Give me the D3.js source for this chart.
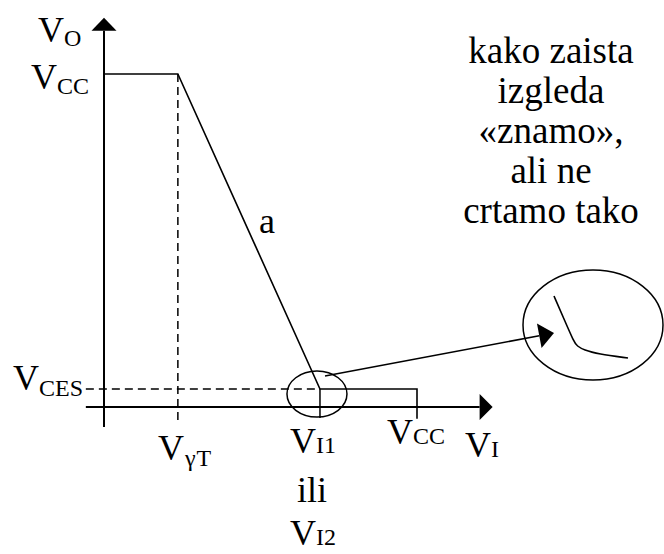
<!DOCTYPE html>
<html>
<head>
<meta charset="utf-8">
<script src="https://cdn.jsdelivr.net/npm/d3@7"></script>
<style>
  html, body { margin: 0; padding: 0; background: #fff; }
  svg { display: block; }
</style>
</head>
<body>
<svg id="chart" width="664" height="554" font-family="'Liberation Serif', 'Times New Roman', Times, 'DejaVu Serif', serif"></svg>
<script>
// Transfer characteristic of an inverter: V_O versus V_I (relative units)
const levelVCC = 10;
const levelVCES = 0.54;
const levelVgT = 2.36;
const levelVI1 = 6.9;

// Idealised characteristic (drawn)
const curveX = [0, levelVgT, levelVI1, levelVCC, levelVCC];
const curveY = [levelVCC, levelVCC, levelVCES, levelVCES, -0.35];

// Real knee shape shown in the magnified inset (local units)
const kneeX = [0, 10, 20, 23, 30, 44, 74];
const kneeY = [0, 23, 46, 50, 54, 58, 62];

// Axis extents
const xAxisExtent = [-0.58, 12.0];
const yAxisExtent = [-0.6, 11.3];

// Text beside the inset
const sideText = ["kako zaista", "izgleda", "«znamo»,", "ali ne", "crtamo tako"];

const svg = d3.select("#chart");
const x = d3.scaleLinear().domain([0, levelVCC]).range([104, 417]);
const y = d3.scaleLinear().domain([0, levelVCC]).range([407, 74]);

const stroke = "#000";

// --- axes ---
svg.append("line")
  .attr("x1", x(xAxisExtent[0])).attr("x2", x(xAxisExtent[1]))
  .attr("y1", y(0)).attr("y2", y(0))
  .attr("stroke", stroke).attr("stroke-width", 2);
svg.append("path")
  .attr("d", `M${x(xAxisExtent[1])},${y(0) - 13} L${x(xAxisExtent[1]) + 13},${y(0)} L${x(xAxisExtent[1])},${y(0) + 13} Z`)
  .attr("fill", stroke);

svg.append("line")
  .attr("x1", x(0)).attr("x2", x(0))
  .attr("y1", y(yAxisExtent[0])).attr("y2", y(yAxisExtent[1]))
  .attr("stroke", stroke).attr("stroke-width", 2);
svg.append("path")
  .attr("d", `M${x(0) - 12.5},${y(yAxisExtent[1])} L${x(0)},${y(yAxisExtent[1]) - 13} L${x(0) + 12.5},${y(yAxisExtent[1])} Z`)
  .attr("fill", stroke);

// --- dashed guides ---
svg.append("line")
  .attr("x1", x(levelVgT)).attr("x2", x(levelVgT))
  .attr("y1", y(levelVCC)).attr("y2", y(-0.48))
  .attr("stroke", stroke).attr("stroke-width", 1.5)
  .attr("stroke-dasharray", "8,5");
svg.append("line")
  .attr("x1", x(xAxisExtent[0])).attr("x2", x(levelVI1))
  .attr("y1", y(levelVCES)).attr("y2", y(levelVCES))
  .attr("stroke", stroke).attr("stroke-width", 1.5)
  .attr("stroke-dasharray", "8,5");

// tick below V_I1
svg.append("line")
  .attr("x1", x(levelVI1)).attr("x2", x(levelVI1))
  .attr("y1", y(levelVCES)).attr("y2", y(-0.33))
  .attr("stroke", stroke).attr("stroke-width", 1.5);

// --- characteristic ---
const line = d3.line().x(d => x(d[0])).y(d => y(d[1]));
svg.append("path")
  .datum(d3.zip(curveX, curveY))
  .attr("d", line)
  .attr("fill", "none").attr("stroke", stroke).attr("stroke-width", 1.6);

// --- magnifier ---
const kx = x(levelVI1) - 3, ky = y(levelVCES) + 5;
svg.append("ellipse")
  .attr("cx", kx).attr("cy", ky).attr("rx", 30).attr("ry", 23)
  .attr("fill", "none").attr("stroke", stroke).attr("stroke-width", 1.5);

const bigC = [593, 325];
svg.append("ellipse")
  .attr("cx", bigC[0]).attr("cy", bigC[1]).attr("rx", 70).attr("ry", 55)
  .attr("fill", "none").attr("stroke", stroke).attr("stroke-width", 1.5);

const kxs = d3.scaleLinear().domain([0, 1]).range([554, 555]);
const kys = d3.scaleLinear().domain([0, 1]).range([296, 297]);
svg.append("path")
  .datum(d3.zip(kneeX, kneeY))
  .attr("d", d3.line().x(d => kxs(d[0])).y(d => kys(d[1])).curve(d3.curveBasis))
  .attr("fill", "none").attr("stroke", stroke).attr("stroke-width", 1.6);

// pointer from the small circle to the inset
const p0 = [325, 376], tip = [554, 333];
const dx = tip[0] - p0[0], dy = tip[1] - p0[1];
const len = Math.hypot(dx, dy), ux = dx / len, uy = dy / len;
const base = [tip[0] - 15 * ux, tip[1] - 15 * uy];
svg.append("line")
  .attr("x1", p0[0]).attr("y1", p0[1]).attr("x2", base[0]).attr("y2", base[1])
  .attr("stroke", stroke).attr("stroke-width", 1.6);
svg.append("path")
  .attr("d", `M${tip[0]},${tip[1]} L${base[0] - uy * 12.5},${base[1] + ux * 12.5} L${base[0] + uy * 12.5},${base[1] - ux * 12.5} Z`)
  .attr("fill", stroke);

// --- labels ---
function vLabel(px, py, sub, subDy = 7) {
  const t = svg.append("text").attr("x", px).attr("y", py).attr("font-size", 36);
  t.append("tspan").text("V");
  t.append("tspan").attr("font-size", 24).attr("dy", subDy).text(sub);
  return t;
}
vLabel(38, 42, "O", 4);
vLabel(31, 89, "CC", 5);
vLabel(13, 390, "CES", 6);
vLabel(158, 460, "γT", 6).select("tspan:last-child").attr("dx", 1).attr("letter-spacing", 1);
vLabel(290, 453, "I1", 0);
vLabel(387, 444, "CC", 0);
vLabel(465, 457, "I", 0);
vLabel(290, 545, "I2", 0);

svg.append("text").attr("x", 312).attr("y", 502).attr("font-size", 36)
  .attr("text-anchor", "middle").text("ili");
svg.append("text").attr("x", 259).attr("y", 233).attr("font-size", 36).text("a");

svg.append("g").selectAll("text").data(sideText).join("text")
  .attr("x", 551).attr("y", (d, i) => 63 + i * 40)
  .attr("font-size", 37).attr("text-anchor", "middle")
  .text(d => d);
</script>
</body>
</html>
